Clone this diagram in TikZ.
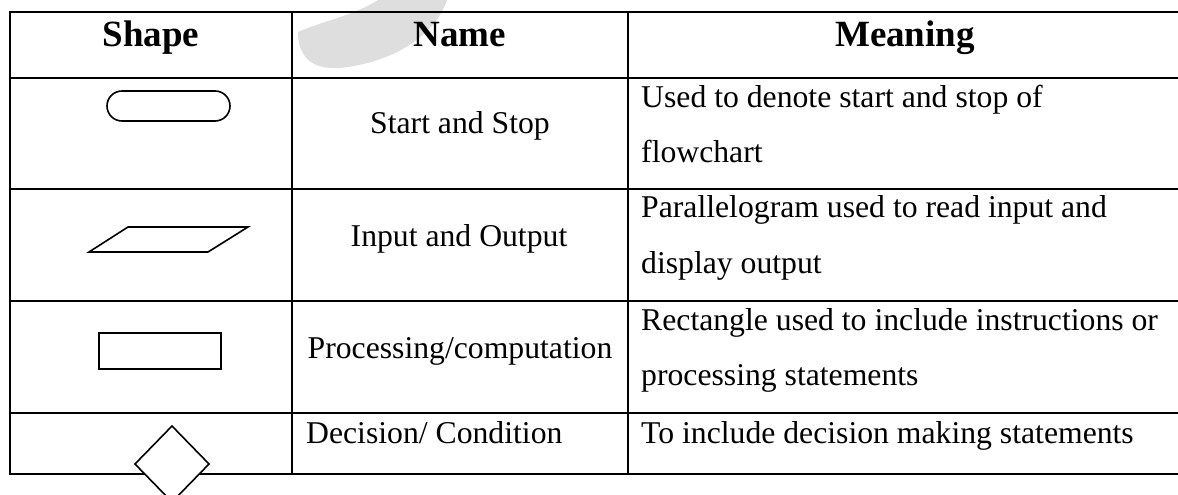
\documentclass[tikz,border=0pt]{standalone}
\usepackage{fontspec}
\setmainfont{Liberation Serif}
\begin{document}
\begin{tikzpicture}[x=1pt,y=-1pt,
  rule/.style={line width=2pt,line cap=rect},
  symbol/.style={line width=1.6pt,fill=white,line join=miter},
  head/.style={inner sep=0pt,anchor=base,font=\fontsize{37}{44}\selectfont\bfseries},
  namecell/.style={inner sep=0pt,anchor=base,font=\fontsize{31.7}{55}\selectfont},
  meancell/.style={inner sep=0pt,anchor=base west,font=\fontsize{31.7}{55}\selectfont}]
\useasboundingbox (0,0) rectangle (1178,495);
\definecolor{wmgray}{RGB}{222,222,222}

% faint mark behind the header
\fill[wmgray] (298,32) .. controls (320,22) and (355,15) .. (378,0) -- (447,0)
  .. controls (435,35) and (395,62) .. (340,68)
  .. controls (310,70) and (298,55) .. cycle;

% table rules
\foreach \yy in {12,78,189,301,413,474}
  \draw[rule] (10,\yy) -- (1180,\yy);
\foreach \xx in {10,292,628}
  \draw[rule] (\xx,12) -- (\xx,474);

% header
\node[head] (hshape) at (151,47) {Shape};
\node[head] (hname) at (460,47) {Name};
\node[head] (hmean) at (905,47) {Meaning};

% shape symbols
\draw[symbol,rounded corners=15pt] (107,91) rectangle (230,121);
\draw[symbol] (128,227) -- (248,227) -- (208,252) -- (89,252) -- cycle;
\draw[symbol] (99,333) rectangle (221,369);
\draw[symbol] (172,426) -- (209,464) -- (172,502) -- (135,464) -- cycle;

% names
\node[namecell] (n1) at (460,133) {Start and Stop};
\node[namecell] (n2) at (459,246) {Input and Output};
\node[namecell] (n3) at (460,358) {Processing/computation};
\node[meancell] (n4) at (306,443) {Decision/ Condition};

% meanings
\node[meancell] (m1a) at (641,107) {Used to denote start and stop of};
\node[meancell] (m1b) at (641,162) {flowchart};
\node[meancell] (m2a) at (641,217) {Parallelogram used to read input and};
\node[meancell] (m2b) at (641,273) {display output};
\node[meancell] (m3a) at (641,330) {Rectangle used to include instructions or};
\node[meancell] (m3b) at (641,385) {processing statements};
\node[meancell] (m4) at (641,443) {To include decision making statements};
\end{tikzpicture}
\end{document}
